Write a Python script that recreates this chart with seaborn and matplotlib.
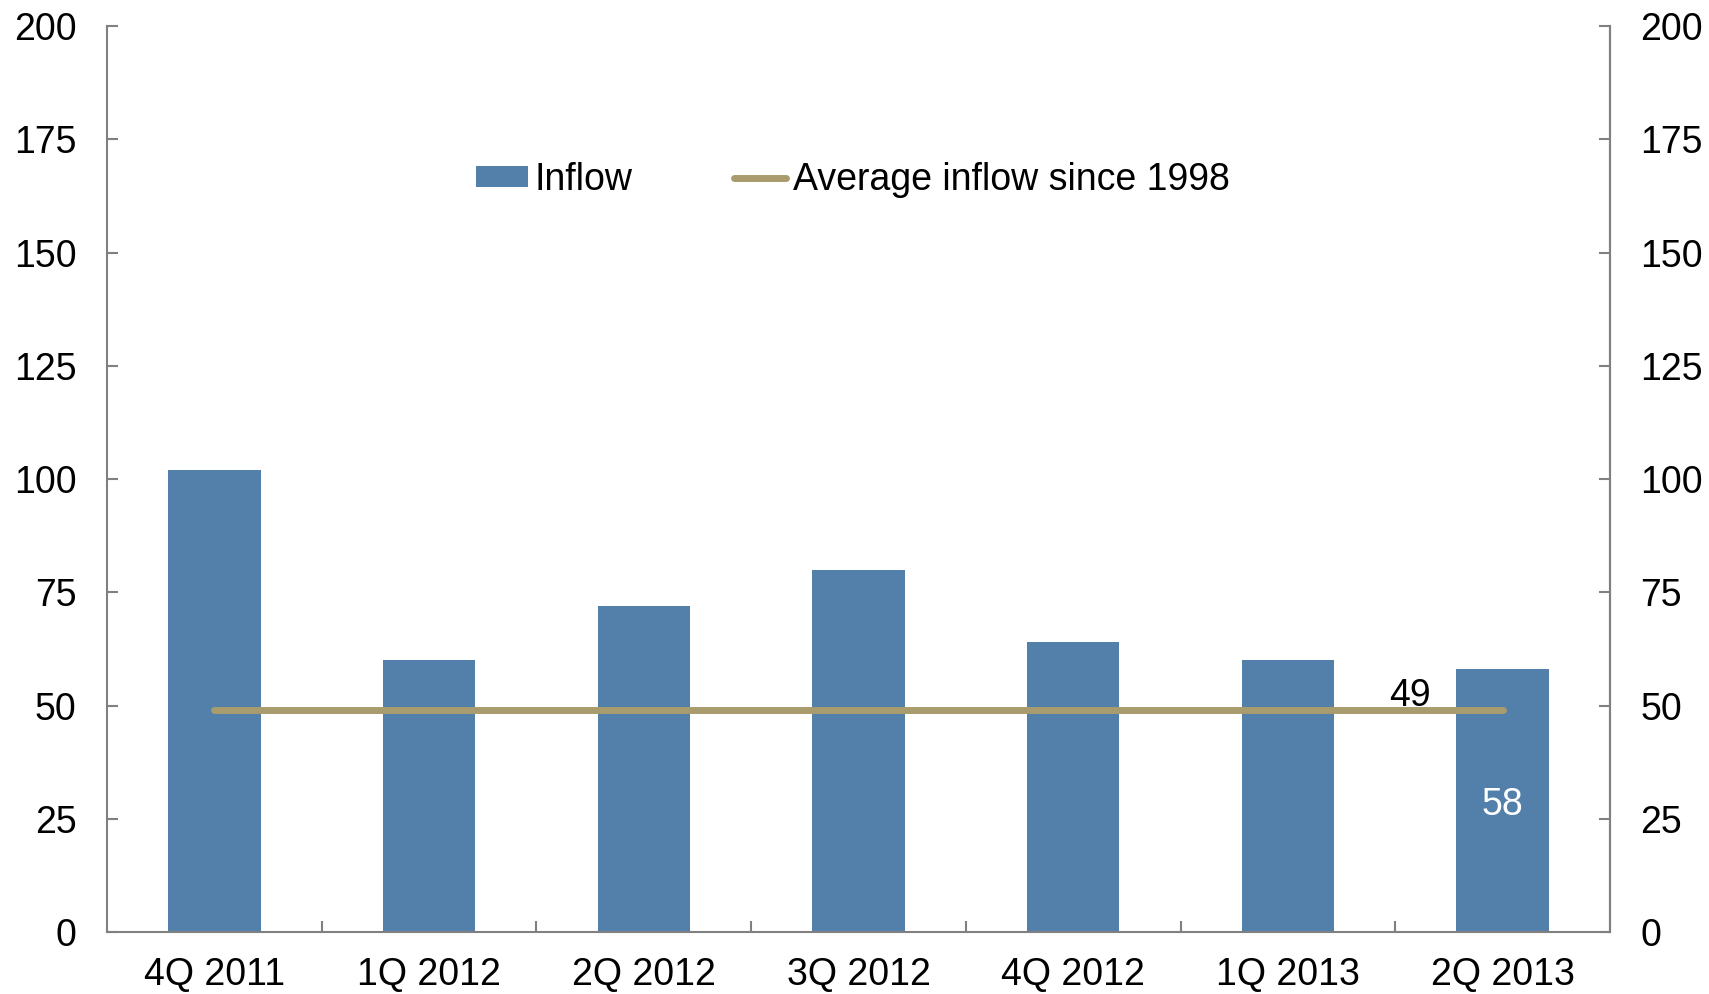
import numpy as np
import pandas as pd
import matplotlib
matplotlib.use("Agg")
import matplotlib.pyplot as plt
import seaborn as sns
from matplotlib.patches import Patch
from matplotlib.lines import Line2D

categories = ["4Q 2011", "1Q 2012", "2Q 2012", "3Q 2012", "4Q 2012", "1Q 2013", "2Q 2013"]
inflow = [102, 60, 72, 80, 64, 60, 58]
average = [49, 49, 49, 49, 49, 49, 49]
y_ticks = [0, 25, 50, 75, 100, 125, 150, 175, 200]

bar_color = "#5380ab"
line_color = "#a89c6e"
axis_color = "#808080"

sns.set_theme(style="white")
plt.rcParams["font.family"] = ["Liberation Sans", "DejaVu Sans"]
plt.rcParams["text.color"] = "black"
plt.rcParams["xtick.labelcolor"] = "black"
plt.rcParams["ytick.labelcolor"] = "black"

df = pd.DataFrame({"quarter": categories, "inflow": inflow, "average": average})

fig = plt.figure(figsize=(17.09, 9.94), dpi=100)
ax = fig.add_axes([107 / 1709, 1 - 932 / 994, (1610 - 107) / 1709, (932 - 26) / 994])

sns.barplot(data=df, x="quarter", y="inflow", color=bar_color, saturation=1,
            width=0.43, ax=ax, edgecolor="none")
sns.lineplot(data=df, x="quarter", y="average", color=line_color, lw=5,
             solid_capstyle="round", ax=ax)

ax.set_xlim(-0.5, len(categories) - 0.5)
ax.set_ylim(0, 200)
ax.set_yticks(y_ticks)
ax.set_xlabel("")
ax.set_ylabel("")

fs = 27
for s in ["left", "right", "bottom"]:
    ax.spines[s].set_color(axis_color)
    ax.spines[s].set_linewidth(1.5)
ax.spines["top"].set_visible(False)

ax.tick_params(axis="y", direction="in", length=8, width=1.5, color=axis_color,
               labelsize=fs, pad=22, left=True, labelcolor="black")
ax.set_xticks(np.arange(len(categories)))
ax.set_xticklabels(categories)
ax.tick_params(axis="x", which="major", length=0, labelsize=fs, pad=18,
               labelcolor="black")
ax.set_xticks(np.arange(len(categories) - 1) + 0.5, minor=True)
ax.tick_params(axis="x", which="minor", direction="in", length=8, width=1.5,
               color=axis_color, bottom=True)

ax2 = ax.twinx()
ax2.set_ylim(0, 200)
ax2.set_yticks(y_ticks)
for s in ["left", "right", "bottom", "top"]:
    ax2.spines[s].set_visible(False)
ax2.spines["right"].set_visible(True)
ax2.spines["right"].set_color(axis_color)
ax2.spines["right"].set_linewidth(1.5)
ax2.tick_params(axis="y", direction="in", length=8, width=1.5, color=axis_color,
                labelsize=fs, pad=22, right=True, labelcolor="black")
ax2.grid(False)
ax.grid(False)

# annotations
ax.text(len(categories) - 1.43, average[-1] - 0.8, str(average[-1]), ha="center",
        va="bottom", fontsize=fs, color="black")
ax.text(len(categories) - 1, 28, str(inflow[-1]), ha="center", va="center",
        fontsize=fs, color="white")

handles = [Patch(facecolor=bar_color, edgecolor="none"),
           Line2D([0], [0], color=line_color, lw=5, solid_capstyle="round")]
fig.legend(handles, ["Inflow", "Average inflow since 1998"], loc="center",
           bbox_to_anchor=(0.499, 0.819), ncol=2, frameon=False, fontsize=fs,
           handlelength=1.4, handleheight=0.47, handletextpad=0.17,
           columnspacing=2.7)

fig.savefig("out.png", dpi=100)
